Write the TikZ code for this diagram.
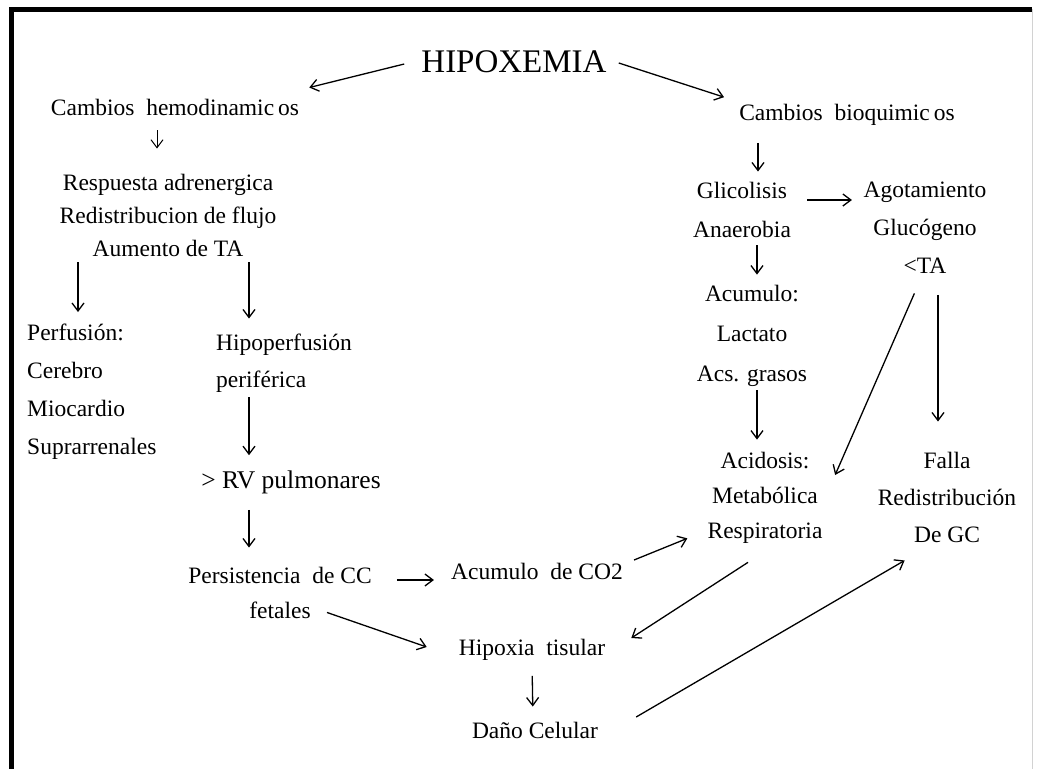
\documentclass[tikz,border=0pt]{standalone}
\usepackage{fontspec}
\setmainfont{Liberation Serif}
\usetikzlibrary{arrows.meta}

\begin{document}
\begin{tikzpicture}[x=1pt,y=-1pt,
                    every node/.style = {font=\fontsize{23.5}{35}\selectfont, inner sep=2pt, align=center},
                    flecha/.style = {-{Straight Barb[length=8pt,width=12pt]}, line width=1.3pt}]

\tikzstyle{lista}=[align=left, anchor=west]
\tikzstyle{grande}=[font=\fontsize{33}{40}\selectfont]

\useasboundingbox (0,0) rectangle (1037,769);
\draw[line width=5pt] (11,769) -- (11,9) -- (1032,9);
\draw[gray!35, line width=1pt] (1032,9) -- (1032,769);

% lado hemodinamico
\node[grande] (hipox) at (514,62) {HIPOXEMIA};
\node (hemo) at (175,107) {Cambios\ \ hemodinamic\kern4pt os};
\node[font=\fontsize{23.5}{33}\selectfont] (resp) at (168,215) {Respuesta adrenergica\\Redistribucion de flujo\\Aumento de TA};
\node[lista, font=\fontsize{23.5}{38}\selectfont] (perf) at (25,392) {Perfusión:\\Cerebro\\Miocardio\\Suprarrenales};
\node[lista, font=\fontsize{23.5}{37}\selectfont] (hipo) at (214,363) {Hipoperfusión\\periférica};
\node[font=\fontsize{25.5}{30}\selectfont] (rv) at (291,482) {> RV pulmonares};
\node (pers) at (280,592.5) {Persistencia\ \ de CC\\fetales};
\node (co2) at (537,571) {Acumulo\ \ de CO2};
\node (hipt) at (532,650) {Hipoxia\ \ tisular};
\node (dano) at (535,730) {Daño Celular};

% lado bioquimico
\node (bioq) at (847,115) {Cambios\ \ bioquimic\kern4pt os};
\node[font=\fontsize{23.5}{39}\selectfont] (gluc) at (742,209.5) {Glicolisis\\Anaerobia};
\node[font=\fontsize{23.5}{38}\selectfont] (agot) at (925,228) {Agotamiento\\Glucógeno\\<TA};
\node[font=\fontsize{23.5}{40}\selectfont] (acum) at (752,335.5) {Acumulo:\\Lactato\\Acs. grasos};
\node (acid) at (765,497.5) {Acidosis:\\Metabólica\\Respiratoria};
\node[font=\fontsize{23.5}{37}\selectfont] (falla) at (947,497) {Falla\\Redistribución\\De GC};

\draw[flecha] ([xshift=-15,yshift=-2]hipox.west) -- ([xshift=8,yshift=9]hemo.north east);
\draw[flecha] ([xshift=10,yshift=-1]hipox.east) -- ([xshift=-13,yshift=5]bioq.north west);
\draw[flecha, line width=1pt, shorten <=13pt, shorten >=23pt] ([xshift=-18]hemo.south) -- ([xshift=-11]resp.north);
\draw[flecha, shorten <=4pt, shorten >=10pt] ([xshift=-90]resp.south) -- ([xshift=53]perf.north west);
\draw[flecha, shorten <=4pt, shorten >=13pt] ([xshift=81]resp.south) -- ([xshift=35]hipo.north west);
\draw[flecha, shorten <=3pt, shorten >=13pt] ([xshift=35]hipo.south west) -- ([xshift=-42]rv.north);
\draw[flecha, shorten <=14pt, shorten >=17pt] ([xshift=-42]rv.south) -- ([xshift=-31]pers.north);
\draw[flecha] ([xshift=23,yshift=12.5]pers.east) -- ([xshift=-15,yshift=-9]co2.west);
\draw[flecha] ([xshift=9,yshift=11]co2.east) -- ([xshift=-18,yshift=7]acid.south west);
\draw[flecha] ([xshift=47,yshift=8]pers.south) -- ([xshift=-30,yshift=3]hipt.west);
\draw[flecha] ([xshift=-17,yshift=-17]acid.south) -- ([xshift=24,yshift=12]hipt.east);
\draw[flecha, shorten <=13pt, shorten >=13pt] (hipt.south) -- ([xshift=-2]dano.north);
\draw[flecha] ([xshift=36,yshift=13]dano.east) -- ([xshift=29,yshift=-16]falla.south west);

\draw[flecha, shorten <=15pt, shorten >=8pt] ([xshift=-89]bioq.south) -- ([xshift=16]gluc.north);
\draw[flecha] ([xshift=14,yshift=9.5]gluc.east) -- ([xshift=-9.5,yshift=28]agot.west);
\draw[flecha, shorten <=6pt, shorten >=8pt] ([xshift=15]gluc.south) -- ([xshift=5]acum.north);
\draw[flecha, shorten <=2pt, shorten >=10pt] ([xshift=5]acum.south) -- ([xshift=-8]acid.north);
\draw[flecha, shorten <=19pt] ([xshift=-3]agot.south) -- ([xshift=10.5,yshift=22.5]acid.east);
\draw[flecha, shorten <=19pt, shorten >=28pt] ([xshift=13]agot.south) -- ([xshift=-9]falla.north);
\end{tikzpicture}
\end{document}
